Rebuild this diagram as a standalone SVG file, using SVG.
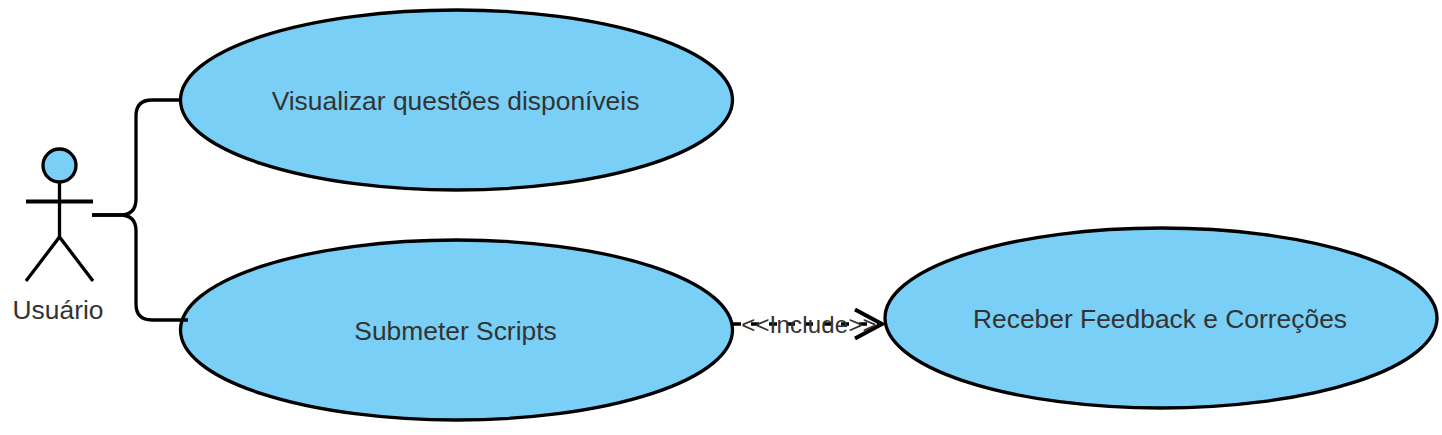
<svg xmlns="http://www.w3.org/2000/svg" width="1442" height="435" viewBox="0 0 1442 435">
<style>
.n{fill:#79cff5;stroke:#000;stroke-width:3.300}
.l{fill:none;stroke:#000;stroke-width:3.300}
text{font-family:"Liberation Sans",Arial,sans-serif;font-size:26.400px;fill:#333;text-anchor:middle}
</style>
<rect width="1442" height="435" fill="#fff"/>
<g id="actor">
<circle class="n" cx="59.500" cy="165.500" r="16.500"/>
<path class="l" d="M59.500 182V237"/>
<path class="l" d="M26 201.500H93" style="stroke-width:4"/>
<path class="l" d="M26 281L59.500 237L93 281"/>
<text x="58" y="319">Usuário</text>
</g>
<g id="uc1"><ellipse class="n" cx="456.500" cy="100" rx="276" ry="90"/><text x="455.500" y="110">Visualizar questões disponíveis</text></g>
<g id="uc2"><ellipse class="n" cx="456.500" cy="330" rx="276" ry="90"/><text x="455.500" y="340">Submeter Scripts</text></g>
<g id="uc3"><ellipse class="n" cx="1161" cy="318" rx="276" ry="90"/><text x="1160" y="328">Receber Feedback e Correções</text></g>
<g id="connectors">
<path class="l" d="M92 215H120Q136 215 136 199V116Q136 100 152 100H181"/>
<path class="l" d="M92 215H120Q136 215 136 231V304Q136 320 152 320H188"/>
<path class="l" d="M733 324H880" stroke-dasharray="8 10"/>
<path class="l" d="M855 309.500L882 324L855 338.500" style="stroke-width:4"/>
</g>
<text x="809" y="333" style="font-size:24px;letter-spacing:.2px">&lt;&lt;Include&gt;&gt;</text>
</svg>
